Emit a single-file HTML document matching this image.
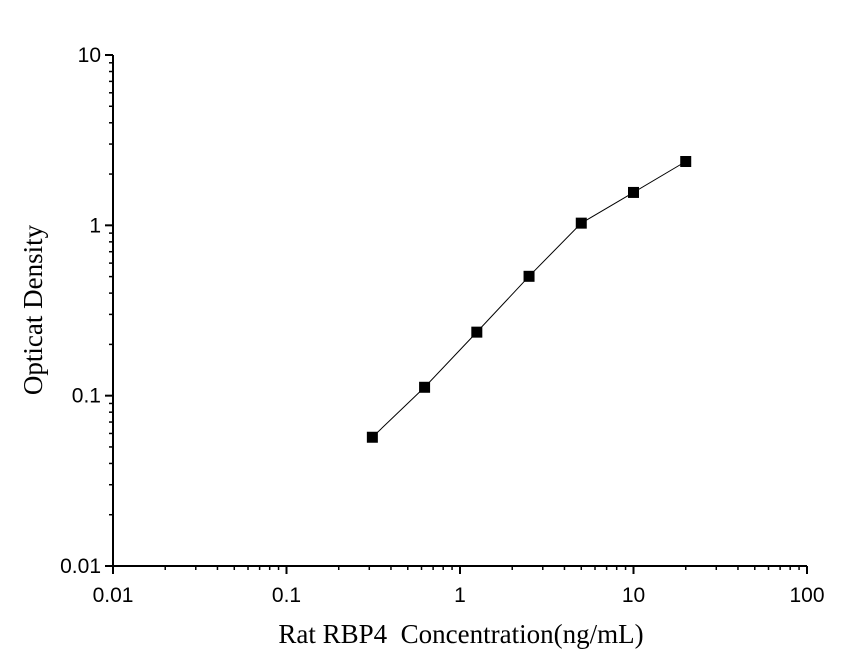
<!DOCTYPE html>
<html><head><meta charset="utf-8"><style>
body{margin:0;background:#fff}
svg{display:block}
text{font-family:"Liberation Sans",Arial,sans-serif;font-size:21px;fill:#000}
.t{font-family:"Liberation Serif",serif;font-size:27px;white-space:pre}
</style></head><body>
<svg id="c" width="864" height="653" xmlns="http://www.w3.org/2000/svg" xml:space="preserve"></svg>
<script>
const xTicks=[0.01,0.1,1,10,100];
const xTickLabels=["0.01","0.1","1","10","100"];
const yTicks=[0.01,0.1,1,10];
const yTickLabels=["0.01","0.1","1","10"];
const concentrations=[0.3125,0.625,1.25,2.5,5,10,20];
const odValues=[0.057,0.112,0.236,0.502,1.03,1.56,2.37];
const X0=113,X1=807,Y0=566,Y1=55;
function xs(v){return X0+(Math.log10(v)+2)/4*(X1-X0);}
function ys(v){return Y0-(Math.log10(v)+2)/3*(Y0-Y1);}
const svg=document.getElementById('c');const NS='http://www.w3.org/2000/svg';
function mk(t,a,p){const e=document.createElementNS(NS,t);for(const k in a)e.setAttribute(k,a[k]);(p||svg).appendChild(e);return e;}
let e;
e=mk('line',{x1:X0,y1:Y0,x2:X1,y2:Y0,stroke:'#000','stroke-width':2});


e=mk('line',{x1:X0,y1:Y0,x2:X0,y2:Y1,stroke:'#000','stroke-width':2});


for(let d=-2;d<2;d++)for(let m=2;m<10;m++){const v=m*Math.pow(10,d);
e=mk('line',{x1:xs(v),y1:Y0,x2:xs(v),y2:Y0+4,stroke:'#000','stroke-width':1.5});

}
for(let d=-2;d<1;d++)for(let m=2;m<10;m++){const v=m*Math.pow(10,d);
e=mk('line',{x1:X0-4,y1:ys(v),x2:X0,y2:ys(v),stroke:'#000','stroke-width':1.5});

}
xTicks.forEach((v,i)=>{
e=mk('line',{x1:xs(v),y1:Y0,x2:xs(v),y2:Y0+8,stroke:'#000','stroke-width':2});


e=mk('text',{x:xs(v),y:Y0+36,'text-anchor':'middle'});e.textContent=xTickLabels[i];

});
yTicks.forEach((v,i)=>{
e=mk('line',{x1:X0-8,y1:ys(v),x2:X0,y2:ys(v),stroke:'#000','stroke-width':2});


e=mk('text',{x:X0-12,y:ys(v)+7,'text-anchor':'end'});e.textContent=yTickLabels[i];

});
e=mk('polyline',{points:concentrations.map((c,i)=>xs(c)+','+ys(odValues[i])).join(' '),fill:'none',stroke:'#000','stroke-width':1});


concentrations.forEach((c,i)=>{
e=mk('rect',{x:xs(c)-5.5,y:ys(odValues[i])-5.5,width:11,height:11,fill:'#000'});

});
e=mk('text',{x:461,y:643,'text-anchor':'middle',class:'t'});e.textContent='Rat RBP4  Concentration(ng/mL)';


e=mk('text',{x:0,y:0,'text-anchor':'middle',class:'t',transform:'translate(42,310) rotate(-90)'});e.textContent='Opticat Density';


</script>
</body></html>
